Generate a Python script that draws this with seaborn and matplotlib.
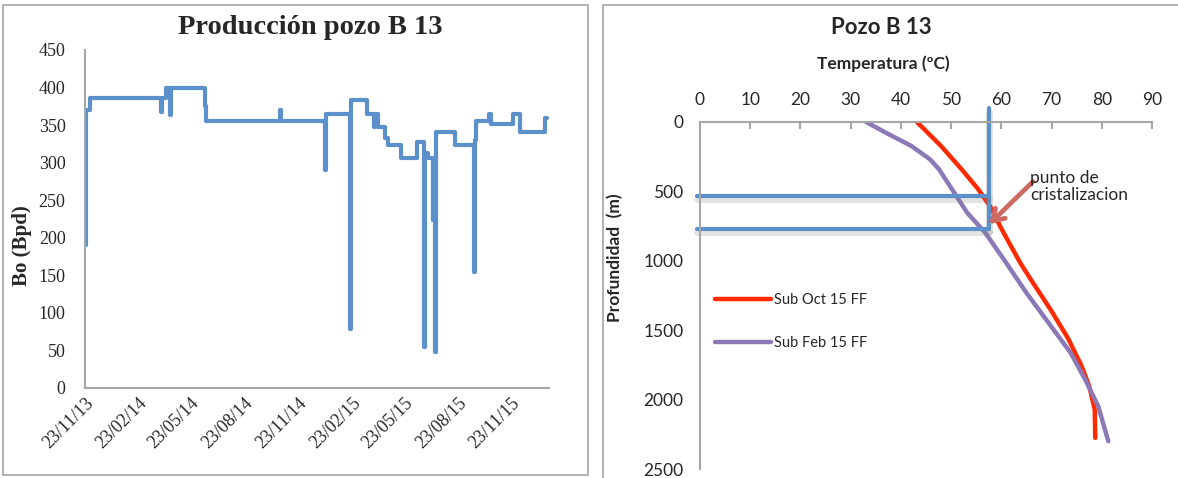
import pandas as pd
import matplotlib
matplotlib.use("Agg")
import matplotlib.pyplot as plt
import matplotlib.dates as mdates
import matplotlib.patheffects as pe
from matplotlib.patches import Rectangle
import seaborn as sns

# Datos: produccion pozo B 13 (puntos de cambio, dibujado en escalones)
fechas = ["2013-11-24", "2013-11-25", "2013-12-01", "2014-04-02", "2014-04-04",
          "2014-04-11", "2014-04-17", "2014-04-19", "2014-06-16", "2014-06-18",
          "2014-10-22", "2014-10-24", "2015-01-07", "2015-01-09", "2015-02-20",
          "2015-02-22", "2015-03-20", "2015-04-01", "2015-04-03", "2015-04-09",
          "2015-04-21", "2015-04-25", "2015-05-18", "2015-06-14", "2015-06-26",
          "2015-06-28", "2015-07-03", "2015-07-11", "2015-07-12", "2015-07-15",
          "2015-07-17", "2015-08-19", "2015-09-19", "2015-09-21", "2015-09-23",
          "2015-10-16", "2015-10-19", "2015-11-26", "2015-12-07", "2016-01-20",
          "2016-01-23"]
bo = [190, 370, 386, 368, 386,
      400, 364, 400, 376, 356,
      370, 356, 290, 365, 78,
      384, 365, 348, 365, 348,
      333, 323, 306, 328, 55,
      313, 306, 224, 306, 48,
      341, 323, 155, 330, 356,
      365, 351, 365, 341, 359,
      359]

# Datos: perfil de temperatura pozo B 13
prof_oct = [0, 173, 341, 480, 620, 754, 880, 1017, 1159, 1351, 1560, 1760, 1904, 2072, 2276]
temp_oct = [43.2, 48.0, 52.1, 55.3, 58.0, 59.8, 61.7, 63.8, 66.3, 69.8, 73.3, 76.0, 77.5, 78.6, 78.7]
prof_feb = [0, 77, 173, 269, 341, 486, 654, 798, 990, 1231, 1447, 1663, 1856, 2048, 2300]
temp_feb = [33.1, 37.0, 42.1, 45.8, 47.6, 50.2, 53.2, 56.8, 60.5, 65.0, 69.4, 73.8, 76.7, 79.3, 81.3]

# Punto de cristalizacion
temp_crist = 57.5
prof_crist = [530, 770]

df_prod = pd.DataFrame({"fecha": pd.to_datetime(fechas), "bo": bo})
df_oct = pd.DataFrame({"temp": temp_oct, "prof": prof_oct})
df_feb = pd.DataFrame({"temp": temp_feb, "prof": prof_feb})

sns.set_style("white")
serif = ["Liberation Serif", "DejaVu Serif"]
sans = ["Lato", "DejaVu Sans"]
azul = "#5B90CA"
gris = "#A6A6A6"

fig = plt.figure(figsize=(11.78, 4.78), dpi=100)

# Marcos de los graficos
W, H = 1178, 478
fig.patches.append(Rectangle((3 / W, 1 - 475 / H), 585 / W, 470 / H, transform=fig.transFigure,
                             fill=False, edgecolor=gris, lw=1.2))
fig.patches.append(Rectangle((603 / W, 1 - 490 / H), 600 / W, 485 / H, transform=fig.transFigure,
                             fill=False, edgecolor=gris, lw=1.2))

# ---- Grafico izquierdo: produccion ----
ax1 = fig.add_axes([85 / W, 1 - 388 / H, 464 / W, 338 / H])
sns.lineplot(data=df_prod, x="fecha", y="bo", ax=ax1, color=azul, lw=3,
             drawstyle="steps-post")
ax1.set_xlim(pd.Timestamp("2013-11-23"), pd.Timestamp("2016-01-26"))
ax1.set_ylim(0, 450)
ax1.set_yticks(range(0, 451, 50))
ax1.xaxis.set_major_locator(mdates.MonthLocator(bymonth=[2, 5, 8, 11], bymonthday=23))
ax1.xaxis.set_major_formatter(mdates.DateFormatter("%d/%m/%y"))
for s in ["top", "right"]:
    ax1.spines[s].set_visible(False)
for s in ["left", "bottom"]:
    ax1.spines[s].set_color(gris)
    ax1.spines[s].set_linewidth(1.5)
ax1.tick_params(axis="y", length=0, pad=14)
ax1.tick_params(axis="x", length=0, pad=5)
for lab in ax1.get_yticklabels():
    lab.set_fontfamily(serif)
    lab.set_fontsize(13)
for lab in ax1.get_xticklabels():
    lab.set_fontfamily(serif)
    lab.set_fontsize(13)
    lab.set_rotation(45)
    lab.set_ha("right")
    lab.set_rotation_mode("anchor")
ax1.set_xlabel("")
ax1.set_ylabel("Bo (Bpd)", family=serif, fontsize=15, fontweight="bold")
ax1.yaxis.set_label_coords(-0.115, 0.42)
fig.text(310 / W, 1 - 28 / H, "Producción pozo B 13", family=serif, fontsize=20.5,
         fontweight="bold", ha="center", va="center")

# ---- Grafico derecho: perfil de temperatura ----
ax2 = fig.add_axes([700 / W, 1 - 469 / H, 452 / W, 347 / H])
sns.lineplot(data=df_oct, x="temp", y="prof", ax=ax2, color="#FF2A00", lw=3.2,
             sort=False, label="Sub Oct 15 FF")
sns.lineplot(data=df_feb, x="temp", y="prof", ax=ax2, color="#8C78B6", lw=3.2,
             sort=False, label="Sub Feb 15 FF")
ax2.set_xlim(0, 90)
ax2.set_ylim(2500, 0)
ax2.set_xticks(range(0, 91, 10))
ax2.set_yticks(range(0, 2501, 500))
ax2.xaxis.tick_top()
for s in ["bottom", "right"]:
    ax2.spines[s].set_visible(False)
for s in ["left", "top"]:
    ax2.spines[s].set_color(gris)
    ax2.spines[s].set_linewidth(1.5)
ax2.tick_params(axis="x", direction="in", length=5, color=gris, width=1.5, pad=10)
ax2.tick_params(axis="y", direction="in", length=5, color=gris, width=1.5, pad=12)
for lab in ax2.get_xticklabels() + ax2.get_yticklabels():
    lab.set_fontfamily(sans)
    lab.set_fontsize(12.5)
ax2.set_xlabel("")
ax2.set_ylabel("Profundidad  (m)", family=sans, fontsize=12.5, fontweight="bold")
ax2.yaxis.set_label_coords(-0.17, 0.61)
fig.text(881 / W, 1 - 27 / H, "Pozo B 13", family=sans, fontsize=16,
         fontweight="bold", ha="center", va="center")
fig.text(883 / W, 1 - 64 / H, "Temperatura (ºC)", family=sans, fontsize=12.5,
         fontweight="bold", ha="center", va="center")

# Lineas del punto de cristalizacion (con sombra)
sombra = [pe.SimpleLineShadow(offset=(0, -2.5), shadow_color="gray", alpha=0.22, linewidth=5),
          pe.Normal()]
ax2.plot([temp_crist, temp_crist], [-100, prof_crist[1]], color=azul, lw=3,
         clip_on=False, path_effects=sombra)
for p in prof_crist:
    ax2.plot([-0.6, temp_crist], [p, p], color=azul, lw=3, clip_on=False,
             path_effects=sombra)

ax2.annotate("", xy=(57.2, 750), xytext=(66.7, 415),
             arrowprops=dict(arrowstyle="->,head_length=0.8,head_width=0.5",
                             color="#CD6A64", lw=3.4))
ax2.text(65.8, 345, "punto de\ncristalizacion", family=sans, fontsize=12.5,
         ha="left", va="top", linespacing=1.1)

leg = ax2.legend(loc="upper left", bbox_to_anchor=(0.005, 0.545), frameon=False,
                 prop={"family": sans, "size": 10.5}, handlelength=3.8,
                 handletextpad=0.2, labelspacing=2.0)

fig.savefig("out.png", dpi=100)
